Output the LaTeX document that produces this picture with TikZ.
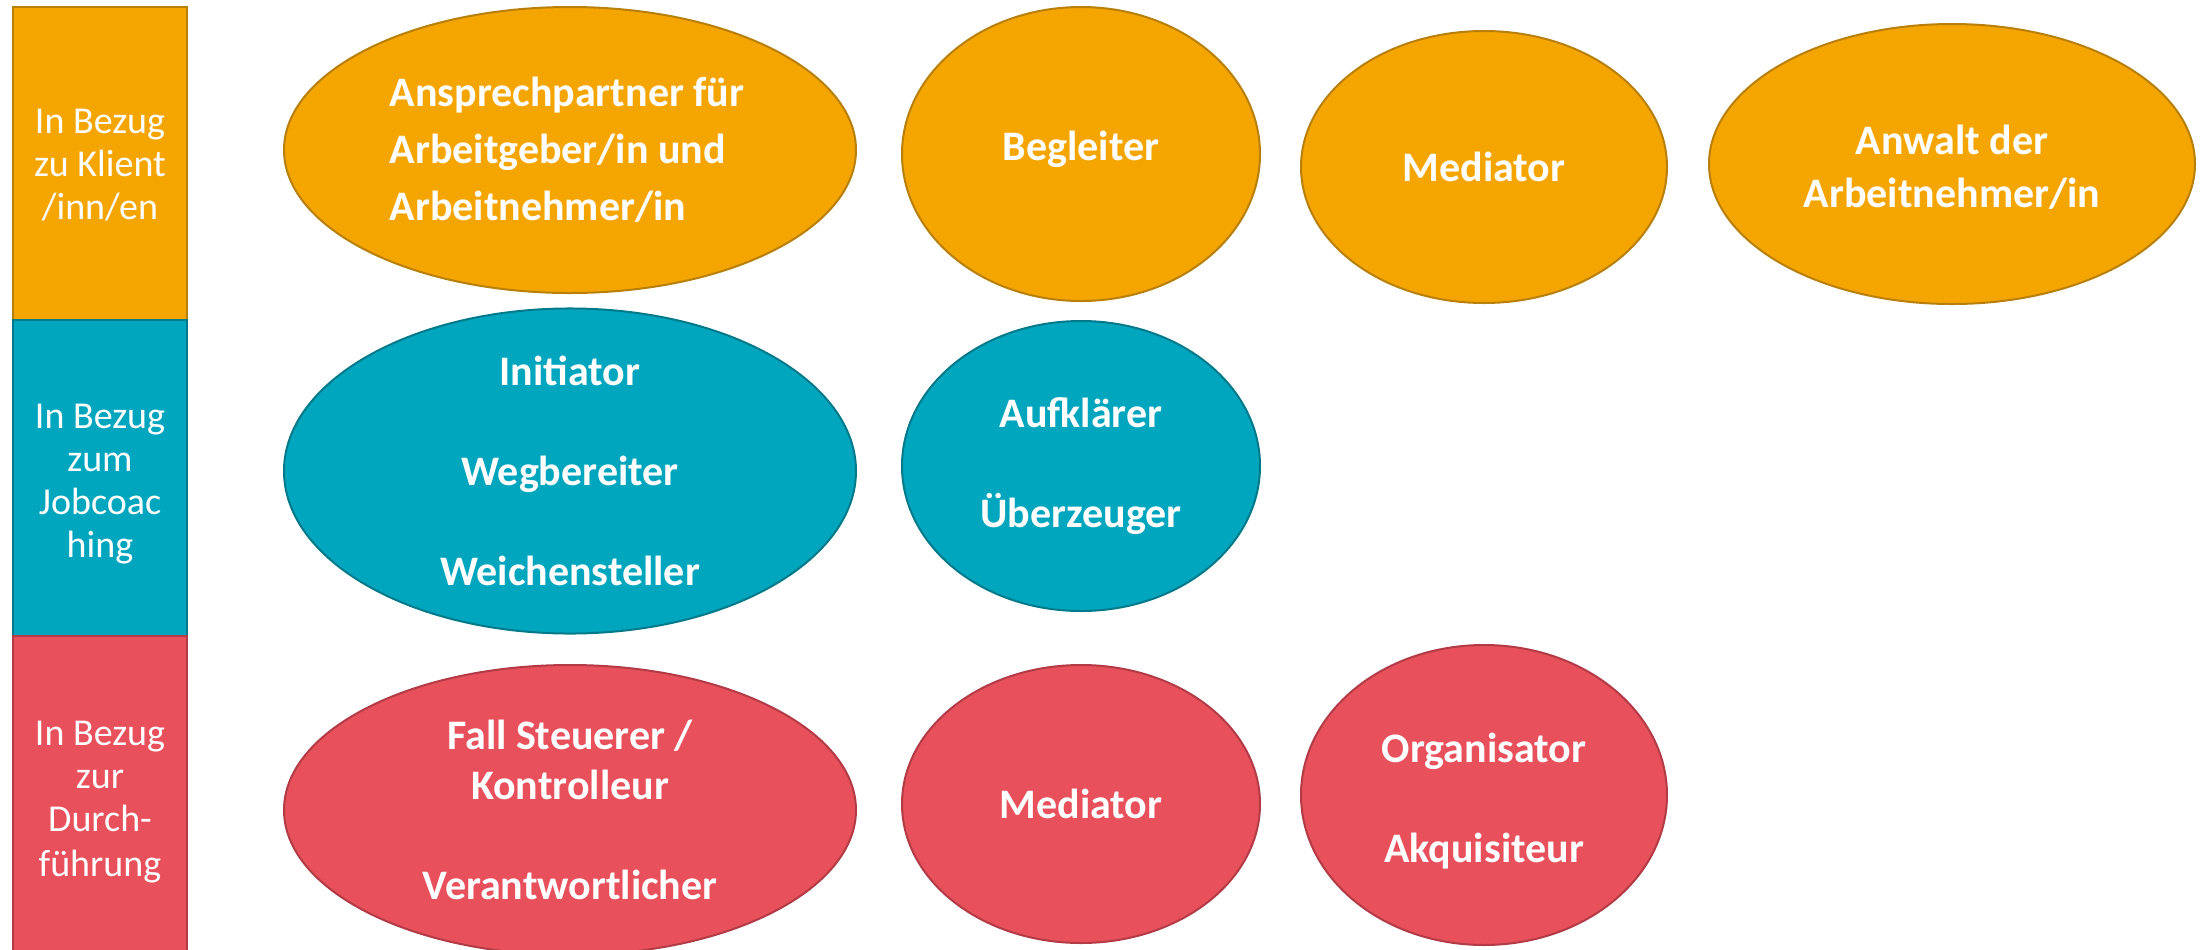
\documentclass[tikz,border=0pt]{standalone}
\usepackage{fontspec}
\setmainfont{Carlito}
\usepackage{tikz}
\usetikzlibrary{shapes.geometric}

\definecolor{klientfill}{HTML}{F5A500}
\definecolor{klientline}{HTML}{B8800A}
\definecolor{coachfill}{HTML}{00A6BD}
\definecolor{coachline}{HTML}{00798A}
\definecolor{durchfill}{HTML}{E8505B}
\definecolor{durchline}{HTML}{B23B45}

% moves the lines of a node up or down, keeping the node's size
\newcommand{\shiftlines}[2]{\raisebox{#1}[\height][\depth]{\begin{tabular}{@{}c@{}}#2\end{tabular}}}

\begin{document}
\begin{tikzpicture}[x=0.5pt,y=-0.5pt,
		band/.style={rectangle, draw, line width=1pt, minimum width=87pt, inner sep=0pt,
			text=white, align=center, font=\fontsize{19}{21.5}\selectfont},
		role/.style={ellipse, draw, line width=1pt, inner sep=0pt,
			text=white, align=center, font=\fontsize{21}{25}\selectfont\bfseries},
		klient/.style={fill=klientfill, draw=klientline},
		coach/.style={fill=coachfill, draw=coachline},
		durch/.style={fill=durchfill, draw=durchline}]
		
		% the page is fixed to the reference frame
		\useasboundingbox (0,0) rectangle (2202,949);
		
		% bands on the left
		\node[band, klient, minimum height=156.5pt] (klientband) at (100,163.5)
			{\shiftlines{-2pt}{In Bezug\\zu Klient\\/inn/en}};
		\node[band, coach, minimum height=158pt] (coachband) at (100,478)
			{\shiftlines{-3pt}{In Bezug\\zum\\Jobcoac\\hing}};
		\node[band, durch, minimum height=162pt] (durchband) at (100,798)
			{\shiftlines{-2pt}{In Bezug\\zur\\Durch-\\[1pt]führung}};
		
		% row 1
		\node[role, klient, minimum width=286pt, minimum height=143pt, align=left,
			font=\fontsize{21}{28.5}\selectfont\bfseries] (ansprech) at (570,150)
			{\hspace*{-3pt}Ansprechpartner für\\\hspace*{-3pt}Arbeitgeber/in und\\\hspace*{-3pt}Arbeitnehmer/in};
		\node[role, klient, minimum width=179pt, minimum height=147pt] (begleiter) at (1081,154)
			{\shiftlines{2pt}{Begleiter}};
		\node[role, klient, minimum width=183pt, minimum height=136pt] (mediatorA) at (1484,167) {Mediator};
		\node[role, klient, minimum width=243pt, minimum height=140pt] (anwalt) at (1952,164)
			{\shiftlines{-3.5pt}{Anwalt der\\[1.5pt]Arbeitnehmer/in}};
		
		% row 2
		\node[role, coach, minimum width=286pt, minimum height=151pt] (initiator) at (570,471)
			{Initiator\\[25pt]Wegbereiter\\[25pt]Weichensteller};
		\node[role, coach, minimum width=179pt, minimum height=145pt] (aufklaerer) at (1081,466)
			{Aufklärer\\[25pt]Überzeuger};
		
		% row 3
		\node[role, durch, minimum width=286pt, minimum height=145pt] (steuerer) at (570,810)
			{Fall Steuerer /\\Kontrolleur\\[25pt]Verantwortlicher};
		\node[role, durch, minimum width=179pt, minimum height=139pt] (mediatorB) at (1081,804) {Mediator};
		\node[role, durch, minimum width=183pt, minimum height=150pt] (organisator) at (1484,795)
			{\shiftlines{-3.5pt}{Organisator\\[25pt]Akquisiteur}};
		
\end{tikzpicture}
\end{document}
